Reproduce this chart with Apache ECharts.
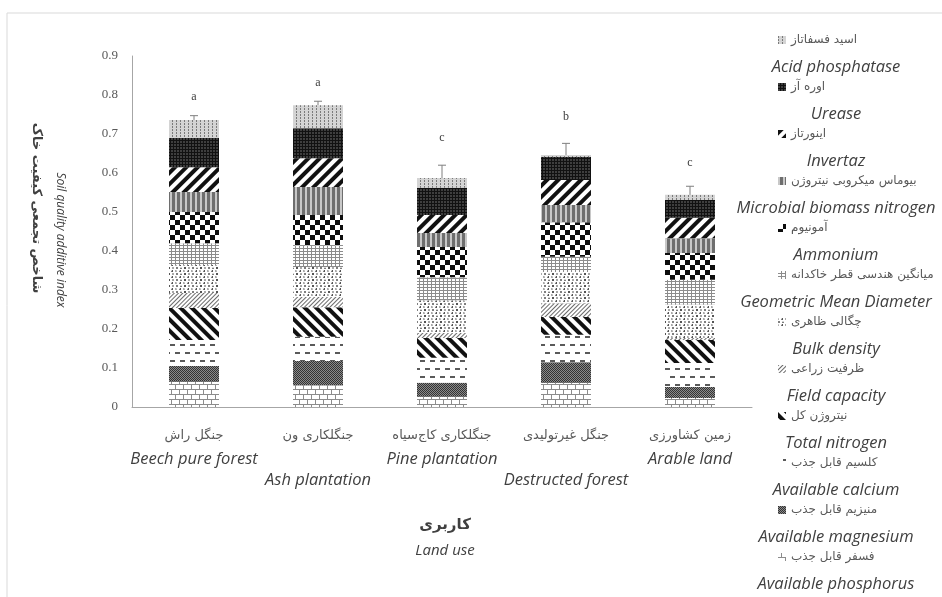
<!DOCTYPE html>
<html>
<head>
<meta charset="utf-8">
<script src="https://cdn.jsdelivr.net/npm/echarts@6/dist/echarts.min.js"></script>
<style>
  html, body { margin: 0; padding: 0; background: #ffffff; }
  #chart { width: 942px; height: 597px; }
</style>
</head>
<body>
<div id="chart"></div>
<script>
// Land-use categories
const landUseFa = ['جنگل راش', 'جنگلکاری ون', 'جنگلکاری کاج‌سیاه', 'جنگل غیرتولیدی', 'زمین کشاورزی'];
const landUseEn = ['Beech pure forest', 'Ash plantation', 'Pine plantation', 'Destructed forest', 'Arable land'];

// Indicator contributions to the additive index (stack order: bottom first)
const availablePhosphorus = [0.065, 0.056, 0.026, 0.062, 0.023];
const availableMagnesium  = [0.040, 0.062, 0.036, 0.053, 0.028];
const availableCalcium    = [0.067, 0.062, 0.064, 0.070, 0.062];
const totalNitrogen       = [0.082, 0.076, 0.051, 0.046, 0.059];
const fieldCapacity       = [0.038, 0.026, 0.013, 0.035, 0.005];
const bulkDensity         = [0.072, 0.077, 0.084, 0.080, 0.085];
const geometricMeanDiam   = [0.056, 0.056, 0.059, 0.039, 0.064];
const ammonium            = [0.080, 0.077, 0.077, 0.089, 0.069];
const microbialBiomassN   = [0.051, 0.072, 0.036, 0.044, 0.038];
const invertase           = [0.064, 0.074, 0.046, 0.064, 0.052];
const urease              = [0.075, 0.077, 0.070, 0.059, 0.046];
const acidPhosphatase     = [0.046, 0.059, 0.025, 0.005, 0.013];

// Standard error of the total index and Duncan grouping letters
const stdError = [0.011, 0.010, 0.033, 0.030, 0.022];
const groupLetters = ['a', 'a', 'c', 'b', 'c'];

// Value axis
const yMin = 0, yMax = 0.9, yStep = 0.1;

// Indicator names (bottom of stack first)
const indicatorFa = ['فسفر قابل جذب', 'منیزیم قابل جذب', 'کلسیم قابل جذب', 'نیتروژن کل', 'ظرفیت زراعی',
  'چگالی ظاهری', 'میانگین هندسی قطر خاکدانه', 'آمونیوم', 'بیوماس میکروبی نیتروژن', 'اینورتاز', 'اوره آز', 'اسید فسفاتاز'];
const indicatorEn = ['Available phosphorus', 'Available magnesium', 'Available calcium', 'Total nitrogen', 'Field capacity',
  'Bulk density', 'Geometric Mean Diameter', 'Ammonium', 'Microbial biomass nitrogen', 'Invertaz', 'Urease', 'Acid phosphatase'];
const indicatorValues = [availablePhosphorus, availableMagnesium, availableCalcium, totalNitrogen, fieldCapacity,
  bulkDensity, geometricMeanDiam, ammonium, microbialBiomassN, invertase, urease, acidPhosphatase];

// Monochrome fill patterns, one per indicator
const Q = Math.PI / 4;
const fills = [
  { color: '#8c8c8c', decal: { symbol: 'rect', symbolSize: 1, color: '#ffffff', dashArrayX: [[7, 1], [3, 1, 4, 0]], dashArrayY: [4, 1] } },
  { color: '#333333', decal: { symbol: 'rect', symbolSize: 1, color: '#8a8a8a', dashArrayX: [[1, 1], [0, 1, 1, 0]], dashArrayY: [1, 0] } },
  { color: '#ffffff', decal: { symbol: 'rect', symbolSize: 1, color: '#5a5a5a', dashArrayX: [[5, 5], [0, 5, 5, 0]], dashArrayY: [2, 6] } },
  { color: '#ffffff', decal: { symbol: 'rect', symbolSize: 1, color: '#111111', dashArrayX: [1, 0], dashArrayY: [4, 4], rotation: Q } },
  { color: '#ffffff', decal: { symbol: 'rect', symbolSize: 1, color: '#6a6a6a', dashArrayX: [1, 0], dashArrayY: [1, 2], rotation: -Q } },
  { color: '#ffffff', decal: { symbol: ['circle', 'triangle', 'rect', 'diamond'], symbolSize: 1, color: '#555555', dashArrayX: [[2, 2], [1, 2, 1, 0]], dashArrayY: [2, 1] } },
  { color: '#8c8c8c', decal: { symbol: 'rect', symbolSize: 1, color: '#ffffff', dashArrayX: [3, 1], dashArrayY: [2, 1] } },
  { color: '#ffffff', decal: { symbol: 'rect', symbolSize: 1, color: '#0d0d0d', dashArrayX: [[5, 5], [0, 5, 5, 0]], dashArrayY: [5, 0] } },
  { color: '#6e6e6e', decal: { symbol: 'rect', symbolSize: 1, color: '#c8c8c8', dashArrayX: [2, 3], dashArrayY: [1, 0] } },
  { color: '#ffffff', decal: { symbol: 'rect', symbolSize: 1, color: '#111111', dashArrayX: [1, 0], dashArrayY: [4, 4], rotation: -Q } },
  { color: '#111111', decal: { symbol: 'circle', symbolSize: 0.8, color: '#7a7a7a', dashArrayX: [2, 1], dashArrayY: [2, 1] } },
  { color: '#d4d4d4', decal: { symbol: 'rect', symbolSize: 1, color: '#7a7a7a', dashArrayX: [1, 3], dashArrayY: [2, 1] } }
];

const totals = landUseEn.map((_, i) => indicatorValues.reduce((s, arr) => s + arr[i], 0));

const faFont = "'DejaVu Sans', sans-serif";
const enFont = "'Open Sans', sans-serif";

const barSeries = indicatorEn.map((name, k) => ({
  name: name,
  type: 'bar',
  stack: 'index',
  barWidth: 50,
  silent: true,
  itemStyle: { color: fills[k].color, decal: fills[k].decal },
  data: indicatorValues[k]
}));

// Whiskers (total + SE) and grouping letters
const whiskerSeries = {
  type: 'custom',
  silent: true,
  z: 10,
  data: landUseEn.map((_, i) => [i, totals[i], stdError[i]]),
  renderItem: function (params, api) {
    const i = api.value(0), tot = api.value(1), e = api.value(2);
    const base = api.coord([i, tot]);
    const tip = api.coord([i, tot + e]);
    const lab = api.coord([i, tot + 2 * e + 0.038]);
    const stroke = { stroke: '#7f7f7f', lineWidth: 1 };
    return {
      type: 'group',
      children: [
        { type: 'line', shape: { x1: base[0], y1: base[1], x2: tip[0], y2: tip[1] }, style: stroke },
        { type: 'line', shape: { x1: tip[0] - 4, y1: tip[1], x2: tip[0] + 4, y2: tip[1] }, style: stroke },
        { type: 'text', x: lab[0], y: lab[1], style: {
            text: groupLetters[params.dataIndex], fill: '#404040',
            font: "12px 'Liberation Serif', serif", textAlign: 'center', textVerticalAlign: 'middle' } }
      ]
    };
  }
};

// Legend: icon + Persian name from the legend component, English name underneath
const legendOrder = indicatorEn.slice().reverse();
const legendFirstRow = 40, legendStep = 47;
const legendEnglish = legendOrder.map((name, k) => ({
  type: 'text', x: 836, y: legendFirstRow + 27 + legendStep * k, silent: true,
  style: { text: name, font: "italic 16.5px 'Open Sans', sans-serif", fill: '#404040', textAlign: 'center', textVerticalAlign: 'middle' }
}));

const chart = echarts.init(document.getElementById('chart'), null, { renderer: 'canvas' });
chart.setOption({
  animation: false,
  backgroundColor: '#ffffff',
  grid: { left: 132, right: 190, top: 56, bottom: 190, containLabel: false },
  legend: {
    orient: 'vertical',
    left: 778,
    top: legendFirstRow - 6,
    padding: 0,
    itemWidth: 8,
    itemHeight: 8,
    itemGap: legendStep - 12,
    icon: 'rect',
    selectedMode: false,
    data: legendOrder,
    formatter: function (name) {
      return indicatorFa[indicatorEn.indexOf(name)];
    },
    textStyle: { fontSize: 12, fontFamily: faFont, color: '#595959' }
  },
  xAxis: {
    type: 'category',
    data: landUseEn,
    axisLine: { lineStyle: { color: '#a6a6a6', width: 1 } },
    axisTick: { show: false },
    axisLabel: {
      interval: 0,
      margin: 16,
      formatter: function (v, i) {
        return '{fa|' + landUseFa[i] + '}\n' + (i % 2 === 1 ? '{sp| }\n' : '') + '{en|' + v + '}';
      },
      rich: {
        fa: { fontSize: 13, lineHeight: 26, fontFamily: faFont, color: '#595959' },
        sp: { fontSize: 10, lineHeight: 21 },
        en: { fontSize: 16.5, lineHeight: 21, fontStyle: 'italic', fontFamily: enFont, color: '#404040' }
      }
    }
  },
  yAxis: {
    type: 'value',
    min: yMin,
    max: yMax,
    interval: yStep,
    splitLine: { show: false },
    axisLine: { show: true, lineStyle: { color: '#a6a6a6', width: 1 } },
    axisTick: { show: false },
    axisLabel: {
      margin: 14,
      color: '#595959',
      fontFamily: "'Liberation Serif', serif",
      fontSize: 13,
      formatter: v => (v === 0 ? '0' : v.toFixed(1))
    }
  },
  graphic: [
    { type: 'rect', shape: { x: 7, y: 13, width: 1000, height: 700 }, style: { fill: 'none', stroke: '#d9d9d9', lineWidth: 1 }, silent: true, z: -10 },
    { type: 'text', x: 36, y: 208, rotation: -Math.PI / 2, style: { text: 'شاخص تجمعی کیفیت خاک', font: "bold 13px 'DejaVu Sans', sans-serif", fill: '#404040', textAlign: 'center', textVerticalAlign: 'middle' } },
    { type: 'text', x: 60, y: 240, rotation: -Math.PI / 2, style: { text: 'Soil quality additive index', font: "italic 12px 'Open Sans', sans-serif", fill: '#404040', textAlign: 'center', textVerticalAlign: 'middle' } },
    { type: 'text', x: 445, y: 525, style: { text: 'کاربری', font: "bold 15px 'DejaVu Sans', sans-serif", fill: '#404040', textAlign: 'center', textVerticalAlign: 'middle' } },
    { type: 'text', x: 445, y: 551, style: { text: 'Land use', font: "italic 15px 'Open Sans', sans-serif", fill: '#404040', textAlign: 'center', textVerticalAlign: 'middle' } }
  ].concat(legendEnglish),
  series: barSeries.concat([whiskerSeries])
});
</script>
</body>
</html>
